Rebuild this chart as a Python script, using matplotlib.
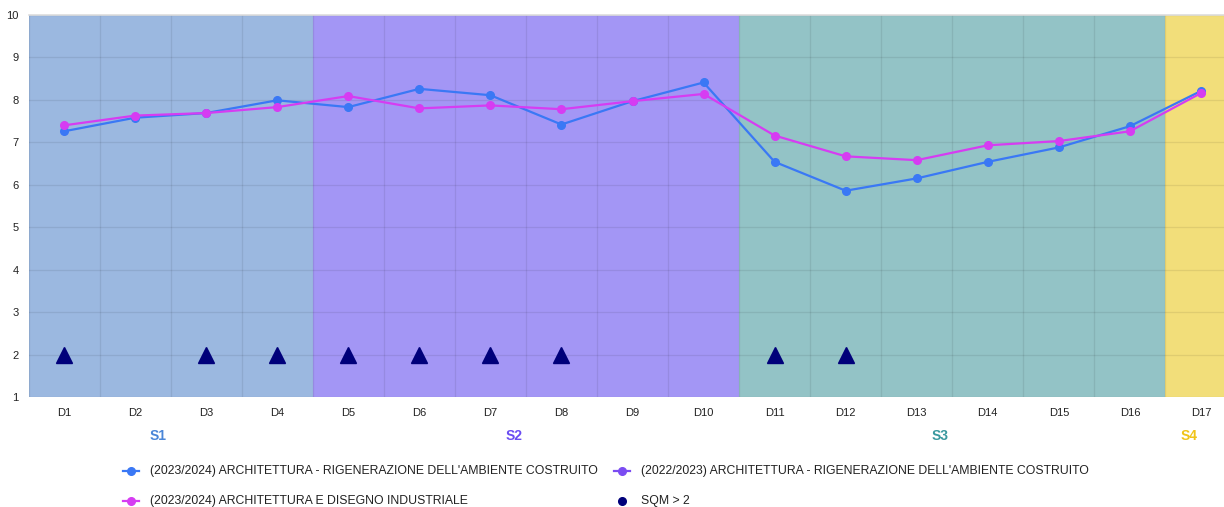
import matplotlib
matplotlib.use("Agg")
import matplotlib.pyplot as plt
from matplotlib.lines import Line2D
import numpy as np

plt.rcParams['font.family'] = ['Liberation Sans', 'DejaVu Sans']

categories = [f"D{i}" for i in range(1, 18)]
rigen_2324 = [7.26, 7.58, 7.69, 7.99, 7.83, 8.26, 8.11, 7.42, 7.97, 8.41,
              6.54, 5.86, 6.15, 6.54, 6.88, 7.38, 8.21]
rigen_2223 = []  # present only in the legend
design_2324 = [7.40, 7.63, 7.69, 7.83, 8.09, 7.80, 7.87, 7.78, 7.97, 8.14,
               7.16, 6.67, 6.58, 6.93, 7.03, 7.26, 8.16]
sqm_cats = ["D1", "D3", "D4", "D5", "D6", "D7", "D8", "D11", "D12"]
sqm_vals = [2, 2, 2, 2, 2, 2, 2, 2, 2]

sections = ["S1", "S2", "S3", "S4"]
section_start = [0, 4, 10, 16]
section_end = [3, 9, 15, 16]
section_fill = ["#9bb8e0", "#a396f5", "#93c3c6", "#f2de7a"]
section_text = ["#4a86d8", "#6a4cf2", "#3a999f", "#f0c419"]

c_blue = "#3a78f5"
c_purple = "#7b4cf2"
c_magenta = "#d63cf2"
c_navy = "#00007a"

W, H = 1224, 507
fig = plt.figure(figsize=(W / 100, H / 100), dpi=100)
left_px, right_px, top_px, bot_px = 28.5, 1236.5, 15, 397
ax = fig.add_axes([left_px / W, 1 - bot_px / H, (right_px - left_px) / W, (bot_px - top_px) / H])

x = np.arange(len(categories))
idx = {c: i for i, c in enumerate(categories)}

for s, e, col in zip(section_start, section_end, section_fill):
    ax.axvspan(s - 0.5, e + 0.5, color=col, zorder=0.2, lw=0)

ax.plot(x, rigen_2324, color=c_blue, lw=1.6, marker='o', ms=5.5, zorder=3)
ax.plot(x, design_2324, color=c_magenta, lw=1.6, marker='o', ms=5.5, zorder=4)
ax.plot([idx[c] for c in sqm_cats], sqm_vals, ls='none', marker='^', ms=12,
        color=c_navy, zorder=5)

ax.set_xlim(-0.5, len(categories) - 0.5)
ax.set_ylim(1, 10)
ax.set_yticks(range(1, 11))
ax.set_xticks(x)
ax.set_xticklabels(categories)
ax.set_xticks(np.arange(-0.5, len(categories), 1), minor=True)
ax.tick_params(axis='both', which='both', length=0)
ax.tick_params(axis='y', labelsize=8, pad=7, labelcolor="#222222")
ax.tick_params(axis='x', labelsize=8, pad=8, labelcolor="#222222")
ax.grid(axis='y', which='major', color='black', alpha=0.08, lw=0.9)
ax.grid(axis='x', which='minor', color='black', alpha=0.08, lw=0.9)
ax.grid(axis='x', which='major', visible=False)
ax.set_axisbelow(True)
for sp in ['left', 'right', 'bottom']:
    ax.spines[sp].set_visible(False)
ax.spines['top'].set_color('#dddddd')
ax.spines['top'].set_linewidth(1.2)

trans = matplotlib.transforms.blended_transform_factory(ax.transData, ax.transAxes)
for name, s, e, col in zip(sections, section_start, section_end, section_text):
    ax.text((s + e) / 2 - 0.17, -0.103, name, transform=trans, ha='center', va='center',
            fontsize=10, fontweight='bold', color=col)

# legend
legend_items = [
    (131, 471, c_blue, 'line', "(2023/2024) ARCHITETTURA - RIGENERAZIONE DELL'AMBIENTE COSTRUITO"),
    (622, 471, c_purple, 'line', "(2022/2023) ARCHITETTURA - RIGENERAZIONE DELL'AMBIENTE COSTRUITO"),
    (131, 501, c_magenta, 'line', "(2023/2024) ARCHITETTURA E DISEGNO INDUSTRIALE"),
    (622, 501, c_navy, 'dot', "SQM > 2"),
]
for px, py, col, kind, label in legend_items:
    fy = 1 - py / H
    if kind == 'line':
        fig.add_artist(Line2D([(px - 8) / W, (px + 8) / W], [fy, fy], color=col, lw=1.6,
                              transform=fig.transFigure))
        fig.add_artist(Line2D([px / W], [fy], color=col, marker='o', ms=5.5, ls='none',
                              transform=fig.transFigure))
    else:
        fig.add_artist(Line2D([px / W], [fy], color=col, marker='o', ms=5.5, ls='none',
                              transform=fig.transFigure))
    fig.text((px + 19) / W, fy, label, fontsize=8.8, va='center', ha='left', color='#222222')

fig.savefig("out.png", dpi=100)
